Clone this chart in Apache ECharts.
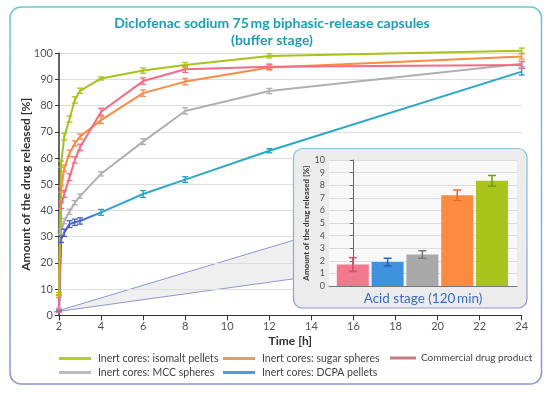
<!DOCTYPE html>
<html><head><meta charset="utf-8">
<script src="https://cdn.jsdelivr.net/npm/echarts@6/dist/echarts.min.js"></script>
<style>html,body{margin:0;padding:0;background:#fff}#c{width:550px;height:394px}</style>
</head><body><div id="c"></div>
<script>
// ---- data ----
var times = [2, 2.1, 2.25, 2.5, 2.75, 3, 4, 6, 8, 12, 24];
var isomalt    = [8.3, 57.7, 68.2, 74.9, 82.2, 85.7, 90.4, 93.4, 95.5, 99.0, 101.0];
var isomaltErr = [0.4, 1.2, 1.3, 1.2, 1.2, 1.0, 0.6, 1.0, 1.0, 0.8, 1.0];
var sugar      = [7.2, 48.2, 56.1, 61.8, 65.6, 68.2, 74.5, 84.8, 89.2, 94.6, 98.8];
var sugarErr   = [0.4, 1.2, 1.2, 1.2, 1.0, 1.0, 1.3, 1.2, 1.2, 1.0, 1.0];
var commercial    = [1.7, 42.0, 46.3, 52.7, 59.3, 64.1, 77.7, 89.4, 93.9, 94.9, 95.5];
var commercialErr = [0.55, 1.2, 1.3, 1.3, 1.2, 1.2, 1.3, 1.2, 1.2, 1.0, 1.3];
var mcc    = [2.5, 32.0, 36.0, 39.5, 43.0, 45.5, 54.0, 66.3, 78.0, 85.6, 96.0];
var mccErr = [0.3, 1.0, 1.0, 1.0, 0.8, 0.8, 0.8, 1.1, 1.2, 1.0, 1.0];
var dcpa    = [1.9, 29.0, 31.5, 34.8, 35.5, 36.0, 39.3, 46.3, 51.8, 62.8, 93.0];
var dcpaErr = [0.3, 1.2, 1.4, 1.3, 1.2, 1.2, 1.1, 1.3, 1.1, 0.8, 1.3];

var seriesNames = ['Inert cores: isomalt pellets','Inert cores: sugar spheres','Commercial drug product','Inert cores: MCC spheres','Inert cores: DCPA pellets'];
var acidCats = ['Commercial drug product','Inert cores: DCPA pellets','Inert cores: MCC spheres','Inert cores: sugar spheres','Inert cores: isomalt pellets'];
var acidValues = [1.7, 1.9, 2.5, 7.2, 8.35];
var acidErr    = [0.55, 0.3, 0.3, 0.42, 0.42];
var yTicksMain = [0, 100, 10];
var xTicksMain = [2, 24, 2];

// ---- styles ----
var FONT = 'Lato';
var lineColors = ['#a6c31b', '#fd8a45', '#f56b84', '#b0b0b0', null];
var legendColors = ['#b5cf20', '#d6a650', '#c47b7f', '#bdbdbd', '#4a9be0'];
var barColors = ['#f2798d', '#3f93dc', '#a9a9a9', '#fd8b3f', '#a9c51b'];
var barErrColors = ['#c2566a', '#2b5fb8', '#777777', '#e8692a', '#6f9d10'];
var blueGrad = new echarts.graphic.LinearGradient(0, 0, 1, 0, [
  {offset: 0, color: '#4a4fc0'}, {offset: 0.05, color: '#4a66cc'},
  {offset: 0.11, color: '#2ea7c8'}, {offset: 1, color: '#27a8c6'}]);

function pairs(xs, ys) { return xs.map(function (x, i) { return [x, ys[i]]; }); }
function triples(xs, ys, es) { return xs.map(function (x, i) { return [x, ys[i], es[i]]; }); }

function errRender(cap, width) {
  return function (params, api) {
    var x = api.value(0), y = api.value(1), e = api.value(2);
    var hi = api.coord([x, y + e]), lo = api.coord([x, y - e]);
    var col = api.visual('color');
    var st = {stroke: col, lineWidth: width};
    return {type: 'group', children: [
      {type: 'line', shape: {x1: hi[0], y1: hi[1], x2: lo[0], y2: lo[1]}, style: st},
      {type: 'line', shape: {x1: hi[0] - cap, y1: hi[1], x2: hi[0] + cap, y2: hi[1]}, style: st},
      {type: 'line', shape: {x1: lo[0] - cap, y1: lo[1], x2: lo[0] + cap, y2: lo[1]}, style: st}
    ]};
  };
}

var mainData = [isomalt, sugar, commercial, mcc, dcpa];
var mainErr = [isomaltErr, sugarErr, commercialErr, mccErr, dcpaErr];
var series = [];
// draw order: mcc, dcpa, sugar, commercial, isomalt
[3, 4, 1, 2, 0].forEach(function (k) {
  var col = k === 4 ? blueGrad : lineColors[k];
  series.push({
    type: 'line', name: seriesNames[k], xAxisIndex: 0, yAxisIndex: 0,
    data: pairs(times, mainData[k]), showSymbol: false, symbol: 'none', clip: false,
    lineStyle: {width: 2, color: col}, itemStyle: {color: k === 4 ? '#2aa7c8' : col},
    z: 3, silent: true
  });
  series.push({
    type: 'custom', name: 'err' + k, xAxisIndex: 0, yAxisIndex: 0,
    data: triples(times, mainData[k], mainErr[k]), clip: false,
    renderItem: (function (kk) {
      return function (params, api) {
        var r = errRender(3, 1.3)(params, api);
        if (kk === 4) {
          var c = params.dataIndex <= 5 ? '#4a5ccc' : '#1f9ec0';
          r.children.forEach(function (ch) { ch.style.stroke = c; });
        }
        return r;
      };
    })(k),
    itemStyle: {color: k === 4 ? '#1f9ec0' : lineColors[k]}, z: 4, silent: true
  });
});

// inset bars
series.push({
  type: 'bar', name: 'acid', xAxisIndex: 1, yAxisIndex: 1, barWidth: 32, z: 5,
  data: acidValues.map(function (v, i) { return {value: [i, v], itemStyle: {color: barColors[i]}}; }),
  silent: true
});
series.push({
  type: 'custom', name: 'acidErr', xAxisIndex: 1, yAxisIndex: 1, z: 6,
  data: acidValues.map(function (v, i) { return {value: [i, v, acidErr[i]], itemStyle: {color: barErrColors[i]}}; }),
  renderItem: errRender(4, 1.5), silent: true
});

function legendItem(idx, left, top, w, fs, pad) {
  return {
    left: left, top: top, orient: 'horizontal', icon: 'rect', itemWidth: w, itemHeight: 3,
    itemGap: 0, padding: 0, selectedMode: false,
    textStyle: {fontFamily: FONT, fontSize: fs, color: '#444', padding: [0, 0, 0, pad]},
    data: [{name: seriesNames[idx], itemStyle: {color: legendColors[idx]}}]
  };
}

var frameGrad = new echarts.graphic.LinearGradient(0, 0, 0, 1, [
  {offset: 0, color: '#6cc6d2'}, {offset: 0.6, color: '#7ab6d8'}, {offset: 1, color: '#8a94d6'}]);
var panelGrad = new echarts.graphic.LinearGradient(0, 0, 0, 1, [
  {offset: 0, color: '#7fc9d6'}, {offset: 1, color: '#8e9ad8'}]);

var option = {
  animation: false,
  backgroundColor: '#ffffff',
  textStyle: {fontFamily: FONT},
  grid: [
    {left: 59, top: 53.3, right: 28.3, bottom: 78.7, z: 1},
    {left: 329, top: 160, width: 188, height: 126, show: true, backgroundColor: '#f8f8f8', borderWidth: 0, z: 2}
  ],
  xAxis: [
    {type: 'value', gridIndex: 0, min: xTicksMain[0], max: xTicksMain[1], interval: xTicksMain[2], z: 1,
     name: 'Time [h]', nameLocation: 'middle', nameGap: 20, nameMoveOverlap: false,
     nameTextStyle: {fontFamily: FONT, fontSize: 12, fontWeight: 'bold', color: '#333'},
     axisLine: {lineStyle: {color: '#333', width: 1.2}},
     axisTick: {show: true, length: 5, lineStyle: {color: '#333'}},
     axisLabel: {fontFamily: FONT, fontSize: 11, color: '#555', margin: 6},
     splitLine: {show: false}},
    {type: 'value', gridIndex: 1, min: -0.684, max: 4.718, z: 2,
     name: 'Acid stage (120\u2009min)', nameLocation: 'middle', nameGap: 6,
     nameTextStyle: {fontFamily: FONT, fontSize: 13.5, color: '#3a6ec4'},
     axisLine: {onZero: false, lineStyle: {color: '#777'}},
     axisTick: {show: false}, axisLabel: {show: false}, splitLine: {show: false}}
  ],
  yAxis: [
    {type: 'value', gridIndex: 0, min: yTicksMain[0], max: yTicksMain[1], interval: yTicksMain[2], z: 1,
     name: 'Amount of the drug released [%]', nameLocation: 'middle', nameGap: 27, nameMoveOverlap: false,
     nameTextStyle: {fontFamily: FONT, fontSize: 12, fontWeight: 'bold', color: '#333'},
     axisLine: {show: true, lineStyle: {color: '#333', width: 1.5}},
     axisTick: {show: true, length: 4, lineStyle: {color: '#333'}},
     axisLabel: {fontFamily: FONT, fontSize: 11, color: '#555', margin: 6},
     splitLine: {show: true, lineStyle: {color: '#dddddd', width: 1}}},
    {type: 'value', gridIndex: 1, min: 0, max: 10, interval: 1, z: 2,
     name: 'Amount of the drug released [%]', nameLocation: 'middle', nameGap: 18,
     nameTextStyle: {fontFamily: FONT, fontSize: 8, fontWeight: 'bold', color: '#333'},
     axisLine: {show: true, lineStyle: {color: '#666'}},
     axisTick: {show: true, length: 3, lineStyle: {color: '#666'}},
     axisLabel: {fontFamily: FONT, fontSize: 9, color: '#555', margin: 4},
     splitLine: {show: true, lineStyle: {color: '#dcdcdc'}}}
  ],
  legend: [
    legendItem(0, 59, 353, 32, 10.5, 2),
    legendItem(1, 223, 353, 32, 10.5, 2),
    legendItem(2, 390, 353, 26, 10, 0),
    legendItem(3, 59, 367, 32, 10.5, 2),
    legendItem(4, 223, 367, 32, 10.5, 2)
  ],
  graphic: [
    {type: 'rect', z: 10, silent: true,
     shape: {x: 10, y: 7, width: 531.5, height: 377, r: 11},
     style: {fill: 'none', stroke: frameGrad, lineWidth: 1.5}},
    {type: 'text', z: 10, silent: true,
     style: {x: 272, y: 15, text: 'Diclofenac sodium 75\u2009mg biphasic-release capsules\n(buffer stage)',
             textAlign: 'center', fontFamily: FONT, fontSize: 14, fontWeight: 'bold',
             fill: '#1e9db6', lineHeight: 17}},
    {type: 'polygon', z: 0, silent: true,
     shape: {points: [[54, 312], [296, 239.5], [296, 278.5]]},
     style: {fill: '#efefef', stroke: '#8b98d6', lineWidth: 1}},
    {type: 'rect', z: 1.5, silent: true,
     shape: {x: 293.5, y: 148.5, width: 233.5, height: 159.5, r: 9},
     style: {fill: '#ececec', stroke: panelGrad, lineWidth: 1.2}}
  ],
  series: series
};

var chart = echarts.init(document.getElementById('c'), null, {renderer: 'canvas'});
chart.setOption(option);
</script></body></html>
